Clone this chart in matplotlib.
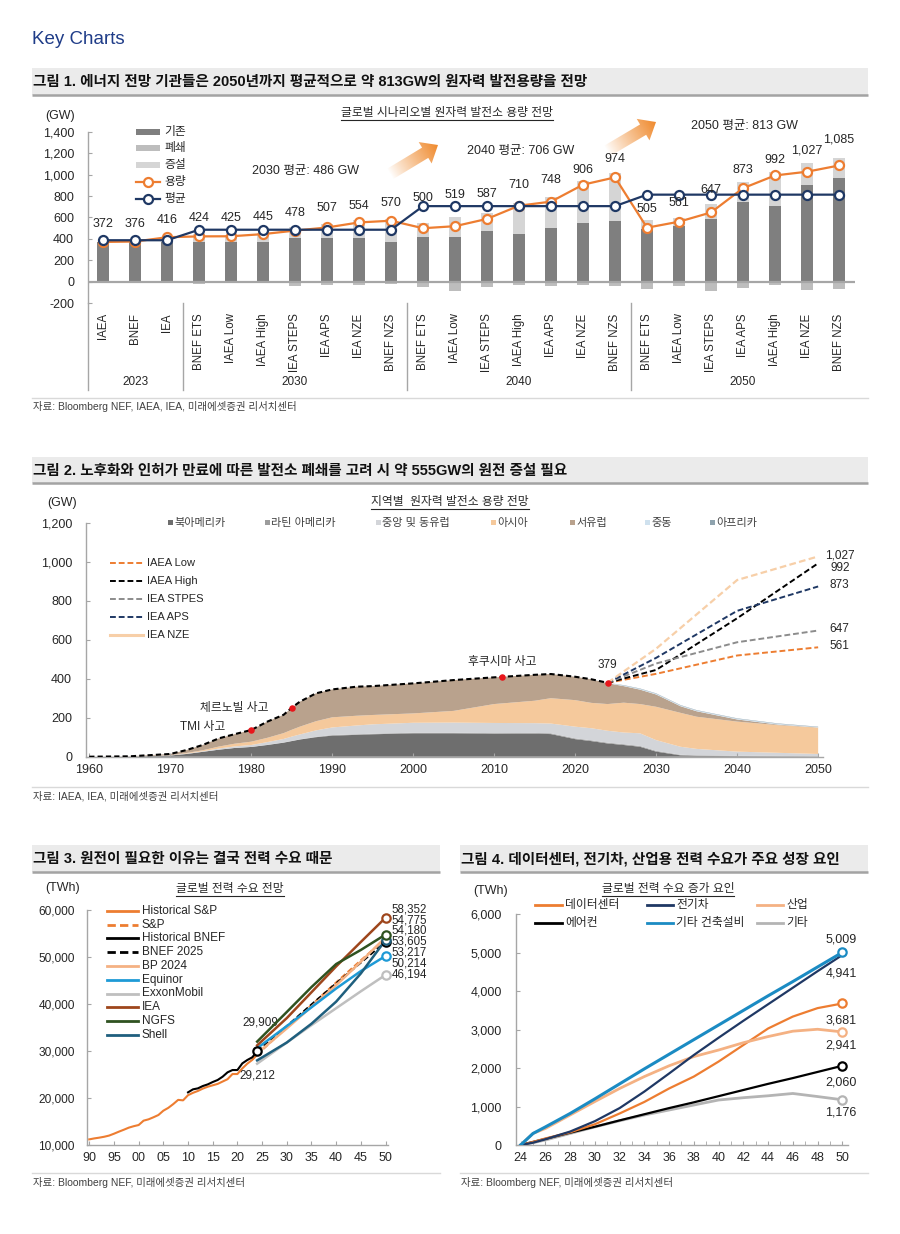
import numpy as np
import matplotlib
matplotlib.use('Agg')
import matplotlib.pyplot as plt
import matplotlib.transforms as mtrans
from matplotlib.patches import Rectangle, Polygon
from matplotlib.ticker import FuncFormatter, MultipleLocator

plt.rcParams['font.family'] = ['Liberation Sans', 'Noto Sans CJK KR', 'DejaVu Sans']
plt.rcParams['axes.unicode_minus'] = False

# ======================= DATA =======================
# ---- Figure 1 : scenario capacity (GW)
c1_categories = ['IAEA', 'BNEF', 'IEA',
                 'BNEF ETS', 'IAEA Low', 'IAEA High', 'IEA STEPS', 'IEA APS', 'IEA NZE', 'BNEF NZS',
                 'BNEF ETS', 'IAEA Low', 'IEA STEPS', 'IAEA High', 'IEA APS', 'IEA NZE', 'BNEF NZS',
                 'BNEF ETS', 'IAEA Low', 'IEA STEPS', 'IEA APS', 'IAEA High', 'IEA NZE', 'BNEF NZS']
c1_groups = ['2023', '2030', '2040', '2050']
c1_group_sizes = [3, 7, 7, 7]
c1_existing = [372, 376, 372, 372, 372, 372, 412, 412, 412, 372, 418, 418, 471, 443, 505, 549, 564,
               496, 518, 583, 744, 704, 899, 967]
c1_added = [4, 4, 48, 72, 68, 83, 103, 125, 167, 218, 134, 187, 168, 292, 283, 391, 450,
            77, 80, 147, 191, 316, 205, 186]
c1_closure = [-4, -4, -4, -20, -15, -10, -37, -30, -25, -20, -52, -86, -52, -25, -40, -34, -40,
              -68, -37, -83, -62, -28, -77, -68]
c1_capacity = [372, 376, 416, 424, 425, 445, 478, 507, 554, 570, 500, 519, 587, 710, 748, 906, 974,
               505, 561, 647, 873, 992, 1027, 1085]
c1_average = [388, 388, 388, 486, 486, 486, 486, 486, 486, 486, 706, 706, 706, 706, 706, 706, 706,
              813, 813, 813, 813, 813, 813, 813]
c1_group_avg = [486, 706, 813]
c1_group_avg_years = ['2030', '2040', '2050']
# layout: height (GW) of each value label
c1_label_y = [538, 544, 581, 591, 591, 606, 643, 684, 705, 736, 786, 812, 817, 901, 954, 1047, 1141,
              675, 731, 861, 1047, 1134, 1221, 1327]

# ---- Figure 2 : regional capacity (GW)
c2_years = [1960, 1965, 1970, 1972, 1974, 1976, 1978, 1980, 1982, 1984, 1985, 1986, 1988, 1990, 1993,
            1995, 2000, 2005, 2010, 2015, 2017, 2020, 2022, 2024, 2026, 2028, 2030, 2033, 2035, 2040,
            2045, 2050]
c2_north_america = [0, 1, 6, 14, 25, 36, 45, 50, 60, 72, 80, 88, 100, 108, 112, 115, 120, 120, 118, 118,
                    116, 90, 80, 68, 60, 51, 26, 7, 4, 3, 2, 1]
c2_latin_america = [0, 0, 0, 0, 0, 0, 0, 0, 1, 1, 1, 1, 2, 3, 3, 3, 3, 3, 3, 4, 4, 4, 4, 4, 4, 4, 4, 3,
                    3, 2, 2, 2]
c2_ce_europe = [0, 0, 1, 2, 3, 6, 8, 10, 14, 18, 22, 25, 33, 39, 45, 48, 51, 52, 52, 50, 50, 60, 62, 61,
                60, 65, 55, 41, 33, 21, 16, 11]
c2_asia = [0, 0, 1, 3, 5, 10, 14, 17, 22, 30, 35, 40, 47, 52, 50, 48, 48, 60, 97, 115, 130, 136, 130,
           137, 153, 150, 171, 174, 165, 154, 142, 135]
c2_w_europe = [0, 1, 6, 15, 27, 42, 49, 60, 83, 94, 113, 128, 143, 143, 149, 148, 154, 158, 137, 133,
               124, 120, 121, 107, 85, 74, 63, 34, 28, 11, 3, 1]
c2_middle_east = [0, 0, 0, 0, 0, 0, 0, 0, 0, 0, 0, 0, 0, 0, 0, 0, 0, 0, 0, 0, 0, 0, 0, 2, 3, 4, 4, 4,
                  4, 4, 4, 2]
c2_africa = [0, 0, 0, 0, 0, 0, 0, 0, 0, 0, 0, 0, 0, 0, 0, 0, 0, 0, 0, 0, 0, 0, 0, 0, 2, 2, 2, 2, 2, 2,
             2, 2]
c2_regions = ['북아메리카', '라틴 아메리카', '중앙 및 동유럽', '아시아', '서유럽', '중동', '아프리카']
c2_hist_years = [1960, 1965, 1970, 1972, 1974, 1976, 1978, 1980, 1982, 1984, 1985, 1986, 1988, 1990,
                 1993, 1995, 2000, 2005, 2010, 2015, 2017, 2020, 2022, 2024]
c2_hist_total = [0, 2, 14, 34, 60, 94, 116, 137, 180, 215, 251, 282, 325, 345, 359, 362, 376, 393, 407,
                 420, 424, 410, 397, 379]
c2_scen_years = [2024, 2030, 2040, 2050]
c2_scen_names = ['IAEA Low', 'IAEA High', 'IEA STPES', 'IEA APS', 'IEA NZE']
c2_iaea_low = [379, 425, 519, 561]
c2_iaea_high = [379, 445, 710, 992]
c2_iea_steps = [379, 478, 587, 647]
c2_iea_aps = [379, 507, 748, 873]
c2_iea_nze = [379, 554, 906, 1027]
c2_event_years = [1980, 1985, 2011, 2024]
c2_event_values = [137, 251, 408, 379]

# ---- Figure 3 : global power demand (TWh)
c3_sp_hist_years = list(range(1990, 2025))
c3_sp_hist = [11200, 11400, 11560, 11750, 12000, 12400, 12840, 13250, 13690, 14000, 14250, 15180,
              15460, 15900, 16380, 17300, 17900, 18700, 19600, 19500, 20600, 21100, 21500, 22000,
              22400, 22700, 23000, 23500, 24000, 25100, 25100, 26300, 27300, 28100, 29212]
c3_bnef_hist_years = list(range(2010, 2025))
c3_bnef_hist = [21200, 21840, 22050, 22550, 22900, 23400, 23830, 24530, 25460, 25950, 25950, 27370,
                28080, 28650, 29909]
c3_fc_years = [2024, 2030, 2035, 2040, 2045, 2050]
c3_sp = [29212, 35000, 39800, 44600, 49300, 53900]
c3_bnef = [29909, 35300, 39900, 44400, 48800, 53217]
c3_bp = [29500, 34800, 39400, 44000, 49000, 54180]
c3_equinor = [30600, 35300, 39300, 43300, 47000, 50214]
c3_exxon = [27300, 31800, 35500, 39100, 42700, 46194]
c3_iea = [31200, 37000, 42500, 48000, 53200, 58352]
c3_ngfs = [32000, 38300, 43600, 48500, 51500, 54775]
c3_shell = [28000, 31800, 35800, 40500, 46500, 53605]
c3_end_labels = [58352, 54775, 54180, 53605, 53217, 50214, 46194]

# ---- Figure 4 : demand growth drivers (TWh)
c4_years = [2024, 2025, 2026, 2028, 2030, 2032, 2034, 2036, 2038, 2040, 2042, 2044, 2046, 2048, 2050]
c4_datacenter = [0, 80, 170, 330, 540, 820, 1120, 1470, 1780, 2170, 2600, 3030, 3340, 3560, 3681]
c4_ev = [0, 60, 150, 350, 620, 960, 1390, 1860, 2340, 2790, 3230, 3660, 4090, 4520, 4941]
c4_industry = [0, 300, 430, 780, 1130, 1470, 1780, 2060, 2300, 2470, 2660, 2820, 2960, 3010, 2941]
c4_aircon = [0, 80, 160, 320, 475, 640, 800, 960, 1110, 1270, 1430, 1590, 1740, 1900, 2060]
c4_other_bldg = [0, 300, 470, 820, 1200, 1590, 1980, 2360, 2740, 3120, 3500, 3880, 4250, 4630, 5009]
c4_other = [0, 60, 130, 300, 470, 630, 780, 910, 1040, 1170, 1230, 1280, 1340, 1260, 1176]

# ======================= FIGURE =======================
W, H = 900, 1234
fig = plt.figure(figsize=(W / 100, H / 100), dpi=100)
fig.patch.set_facecolor('white')

TXT = '#262626'
AXC = '#a6a6a6'
ORANGE = '#ed7d31'
NAVY = '#1f3864'
comma = FuncFormatter(lambda v, p: f'{int(round(v)):,}')


def rect(l, t, r, b):
    return [l / W, 1 - b / H, (r - l) / W, (b - t) / H]


def style_axes(ax, pad=10):
    for s in ['top', 'right']:
        ax.spines[s].set_visible(False)
    for s in ['left', 'bottom']:
        ax.spines[s].set_color(AXC)
        ax.spines[s].set_linewidth(1.0)
    ax.tick_params(axis='y', direction='in', length=3, color=AXC, labelsize=9, labelcolor=TXT, pad=pad)
    ax.tick_params(axis='x', direction='in', length=3, color=AXC, labelsize=9, labelcolor=TXT, pad=5)
    ax.patch.set_alpha(0)


# overlay in pixel coordinates (for titles, legends, decorations)
ov = fig.add_axes([0, 0, 1, 1], zorder=10)
ov.set_xlim(0, W)
ov.set_ylim(H, 0)
ov.axis('off')
ov.patch.set_alpha(0)

underline_texts = []


def title_bar(x0, x1, y0, y1, text):
    ov.add_patch(Rectangle((x0, y0), x1 - x0, y1 - y0, fc='#ebebeb', ec='none'))
    ov.plot([x0, x1], [y1, y1], color='#a3a3a3', lw=1.8, solid_capstyle='butt')
    ov.text(x0 + 1, (y0 + y1) / 2 + 0.5, text, fontsize=10.5, fontweight='bold', va='center',
            ha='left', color='#111111')


def source(x0, x1, y, text):
    ov.plot([x0, x1], [y - 9, y - 9], color='#d9d9d9', lw=1.0)
    ov.text(x0 + 1, y, text, fontsize=7.5, va='center', ha='left', color='#404040')


def utitle(x, y, text, fs=8.5):
    t = ov.text(x, y, text, ha='center', va='center', fontsize=fs, color=TXT)
    underline_texts.append(t)


ov.text(32, 40, 'Key Charts', fontsize=13.5, color='#1f3c88', va='center', ha='left')

# ---------------------------------------------------------------- Figure 1
title_bar(32, 868, 68, 95, '그림 1. 에너지 전망 기관들은 2050년까지 평균적으로 약 813GW의 원자력 발전용량을 전망')
ax1 = fig.add_axes(rect(88, 131.7, 855, 303.3))
style_axes(ax1)
x1 = np.arange(len(c1_categories))
bw = 0.37
ax1.bar(x1, c1_existing, width=bw, color='#7f7f7f', zorder=2)
ax1.bar(x1, c1_added, bottom=c1_existing, width=bw, color='#d5d5d5', zorder=2)
ax1.bar(x1, c1_closure, width=bw, color='#bdbdbd', zorder=2)
ax1.axhline(0, color='#a6a6a6', lw=1.6, zorder=3)
ax1.plot(x1, c1_capacity, color=ORANGE, lw=1.6, marker='o', ms=6.5, mfc='white', mec=ORANGE,
         mew=1.6, zorder=4)
ax1.plot(x1, c1_average, color=NAVY, lw=1.6, marker='o', ms=6.5, mfc='white', mec=NAVY, mew=1.6,
         zorder=5)
for xi, v, ly in zip(x1, c1_capacity, c1_label_y):
    ax1.text(xi, ly, f'{v:,}', ha='center', va='center', fontsize=9, color=TXT, zorder=6)
ax1.set_xlim(-0.47, 23.5)
ax1.set_ylim(-200, 1400)
ax1.set_yticks(range(-200, 1401, 200))
ax1.yaxis.set_major_formatter(comma)
ax1.set_xticks([])
ax1.spines['bottom'].set_visible(False)
bt = mtrans.blended_transform_factory(ax1.transData, ax1.transAxes)
for xi, c in zip(x1, c1_categories):
    ax1.text(xi, -0.058, c, transform=bt, rotation=90, ha='center', va='top', fontsize=8.3,
             color=TXT, clip_on=False)
start = 0
seps = [-0.47]
for g, n in zip(c1_groups, c1_group_sizes):
    ax1.text(start + (n - 1) / 2, -0.46, g, transform=bt, ha='center', va='center', fontsize=8.5,
             color=TXT, clip_on=False)
    start += n
    if start < len(c1_categories):
        seps.append(start - 0.5)
for s in seps:
    ax1.plot([s, s], [0, -0.505], transform=bt, color=AXC, lw=1.0, clip_on=False)
ov.text(45, 116, '(GW)', fontsize=9, color=TXT, va='center', ha='left')
utitle(447, 113, '글로벌 시나리오별 원자력 발전소 용량 전망')
# legend
leg1_y = [131.7, 148.3, 165, 181.7, 199.3]
for y, c, lab in zip(leg1_y[:3], ['#7f7f7f', '#bdbdbd', '#d5d5d5'], ['기존', '폐쇄', '증설']):
    ov.add_patch(Rectangle((136, y - 3.2), 24, 6.4, fc=c, ec='none'))
    ov.text(164, y, lab, fontsize=8.5, va='center', ha='left', color=TXT)
for y, c, lab in zip(leg1_y[3:], [ORANGE, NAVY], ['용량', '평균']):
    ov.plot([136, 160], [y, y], color=c, lw=1.6)
    ov.plot([148], [y], marker='o', ms=6.5, mfc='white', mec=c, mew=1.6)
    ov.text(164, y, lab, fontsize=8.5, va='center', ha='left', color=TXT)
for (px, py), yr, v in zip([(305, 171), (521, 151), (744, 126)], c1_group_avg_years, c1_group_avg):
    ov.text(px, py, f'{yr} 평균: {v} GW', fontsize=9, ha='center', va='center', color=TXT)


def grad_arrow(tail, tip, w=6.0, hw=12.5, hl=15.0, color=(0.94, 0.53, 0.16)):
    T = np.array(tail, float)
    P = np.array(tip, float)
    L = np.linalg.norm(P - T)
    u = (P - T) / L
    n = np.array([-u[1], u[0]])
    Hd = P - u * hl
    pts = [T + n * w, Hd + n * w, Hd + n * hw, P, Hd - n * hw, Hd - n * w, T - n * w]
    poly = Polygon(pts, closed=True, fc='none', ec='none', transform=ov.transData)
    ov.add_patch(poly)
    xs = [p[0] for p in pts]
    ys = [p[1] for p in pts]
    x0, x1_, y0, y1_ = min(xs) - 1, max(xs) + 1, min(ys) - 1, max(ys) + 1
    nc, nr = 120, 120
    gx = x0 + (np.arange(nc) + 0.5) * (x1_ - x0) / nc
    gy = y0 + (np.arange(nr) + 0.5) * (y1_ - y0) / nr
    GX, GY = np.meshgrid(gx, gy)
    t = ((GX - T[0]) * u[0] + (GY - T[1]) * u[1]) / L
    a = np.clip(t, 0, 1) ** 0.9
    img = np.zeros((nr, nc, 4))
    img[..., 0], img[..., 1], img[..., 2] = color
    img[..., 3] = a
    im = ov.imshow(img, extent=(x0, x1_, y1_, y0), origin='upper', aspect='auto',
                   interpolation='bilinear')
    im.set_clip_path(poly)


grad_arrow((390, 174), (438, 145))
grad_arrow((607, 151), (656, 122))
ov.set_xlim(0, W)
ov.set_ylim(H, 0)
source(32, 868, 407, '자료: Bloomberg NEF, IAEA, IEA, 미래에셋증권 리서치센터')

# ---------------------------------------------------------------- Figure 2
title_bar(32, 868, 457, 483, '그림 2. 노후화와 인허가 만료에 따른 발전소 폐쇄를 고려 시 약 555GW의 원전 증설 필요')
ax2 = fig.add_axes(rect(86, 522.7, 823, 756.7))
style_axes(ax2)
c2_colors = ['#6e6e6e', '#9c9c9c', '#d3d5d9', '#f5c99c', '#b9a28d', '#cfe1ee', '#8fa3ae']
ax2.stackplot(c2_years, c2_north_america, c2_latin_america, c2_ce_europe, c2_asia, c2_w_europe,
              c2_middle_east, c2_africa, colors=c2_colors, lw=0, zorder=1)
ax2.plot(c2_hist_years, c2_hist_total, color='black', lw=1.5, ls=(0, (2.5, 1.5)), zorder=4)
c2_scen_styles = [(ORANGE, 1.4, (0, (3, 1.5))), ('#000000', 1.4, (0, (3, 1.5))),
                  ('#8c8c8c', 1.4, (0, (3, 1.5))), (NAVY, 1.4, (0, (3, 1.5))),
                  ('#f7cfa8', 1.6, (0, (3, 1.5)))]
c2_scen = [c2_iaea_low, c2_iaea_high, c2_iea_steps, c2_iea_aps, c2_iea_nze]
for vals, (col, lw, ls) in zip(c2_scen, c2_scen_styles):
    ax2.plot(c2_scen_years, vals, color=col, lw=lw, ls=ls, zorder=3)
ax2.scatter(c2_event_years, c2_event_values, s=22, color='#e8161b', zorder=5, lw=0)
c2_end_offsets = [0, -6, 0, 0, 0]  # px, layout nudges
for vals, off in zip(c2_scen, c2_end_offsets):
    ax2.annotate(f'{vals[-1]:,}', (2050, vals[-1]), xytext=(15.6, off / 1.389 + 1),
                 textcoords='offset points', ha='center', va='center', fontsize=8.5, color=TXT,
                 annotation_clip=False)
ax2.annotate(f'{c2_event_values[3]}', (c2_event_years[3], c2_event_values[3]), xytext=(0, 12.5),
             textcoords='offset points', ha='center', va='center', fontsize=8.5, color=TXT)
ax2.annotate('후쿠시마 사고', (c2_event_years[2], c2_event_values[2]), xytext=(0, 11),
             textcoords='offset points', ha='center', va='center', fontsize=8.5, color=TXT)
ax2.annotate('체르노빌 사고', (c2_event_years[1], c2_event_values[1]), xytext=(-17, 0),
             textcoords='offset points', ha='right', va='center', fontsize=8.5, color=TXT)
ax2.annotate('TMI 사고', (c2_event_years[0], c2_event_values[0]), xytext=(-18.5, 2),
             textcoords='offset points', ha='right', va='center', fontsize=8.5, color=TXT)
ax2.set_xlim(1959.6, 2050.6)
ax2.set_ylim(0, 1200)
ax2.set_xticks(range(1960, 2051, 10))
ax2.set_yticks(range(0, 1201, 200))
ax2.yaxis.set_major_formatter(comma)
ov.text(47, 503, '(GW)', fontsize=9, color=TXT, va='center', ha='left')
utitle(450, 502, '지역별  원자력 발전소 용량 전망')
leg2_x = [170, 267, 378, 493, 572, 647, 712]
for px, c, lab in zip(leg2_x, c2_colors, c2_regions):
    ov.add_patch(Rectangle((px - 2.5, 520.2), 5, 5, fc=c, ec='none'))
    ov.text(px + 4, 522.7, lab, fontsize=8, va='center', ha='left', color='#404040')
leg2_y = [562.7, 580.7, 598.7, 616.7, 635]
for y, (col, lw, ls), lab in zip(leg2_y, c2_scen_styles, c2_scen_names):
    if lab == 'IEA NZE':
        ov.plot([110, 143], [y, y], color=col, lw=2.2)
    else:
        ov.plot([110, 143], [y, y], color=col, lw=lw, ls=ls)
    ov.text(147, y, lab, fontsize=8, va='center', ha='left', color=TXT)
source(32, 868, 796, '자료: IAEA, IEA, 미래에셋증권 리서치센터')

# ---------------------------------------------------------------- Figure 3
title_bar(32, 440, 845, 872, '그림 3. 원전이 필요한 이유는 결국 전력 수요 때문')
ax3 = fig.add_axes(rect(87.3, 910, 388, 1145))
style_axes(ax3, pad=9)
c3_series = [
    ('Historical S&P', c3_sp_hist_years, c3_sp_hist, ORANGE, '-', 1.5, False),
    ('S&P', c3_fc_years, c3_sp, ORANGE, (0, (3, 1.5)), 1.4, False),
    ('Historical BNEF', c3_bnef_hist_years, c3_bnef_hist, '#000000', '-', 1.5, False),
    ('BNEF 2025', c3_fc_years, c3_bnef, '#000000', (0, (3, 1.5)), 1.4, True),
    ('BP 2024', c3_fc_years, c3_bp, '#f4b183', '-', 1.8, False),
    ('Equinor', c3_fc_years, c3_equinor, '#1e9ad6', '-', 1.8, True),
    ('ExxonMobil', c3_fc_years, c3_exxon, '#bfbfbf', '-', 1.8, True),
    ('IEA', c3_fc_years, c3_iea, '#9e461c', '-', 1.8, True),
    ('NGFS', c3_fc_years, c3_ngfs, '#2f5220', '-', 1.8, True),
    ('Shell', c3_fc_years, c3_shell, '#1f5f7e', '-', 1.8, True),
]
draw_order = [6, 4, 1, 3, 0, 2, 5, 9, 7, 8]
for i in draw_order:
    lab, xs, ys, col, ls, lw, mk = c3_series[i]
    ax3.plot(xs, ys, color=col, ls=ls, lw=lw, zorder=3 + i * 0.1)
    if mk:
        ax3.plot([xs[-1]], [ys[-1]], marker='o', ms=6, mfc='white', mec=col, mew=1.6,
                 zorder=5, clip_on=False)
ax3.plot([c3_bnef_hist_years[-1]], [c3_bnef_hist[-1]], marker='o', ms=6, mfc='white', mec='black',
         mew=1.6, zorder=6)
ax3.annotate(f'{c3_bnef_hist[-1]:,}', (c3_bnef_hist_years[-1], c3_bnef_hist[-1]), xytext=(2, 21),
             textcoords='offset points', ha='center', va='center', fontsize=8.5, color=TXT)
ax3.annotate(f'{c3_sp_hist[-1]:,}', (c3_sp_hist_years[-1], c3_sp_hist[-1]), xytext=(0, -15),
             textcoords='offset points', ha='center', va='center', fontsize=8.5, color=TXT)
c3_label_top, c3_label_step = 60200, 2330  # layout for stacked end labels
for i, v in enumerate(c3_end_labels):
    ax3.text(2051.2, c3_label_top - i * c3_label_step, f'{v:,}', ha='left', va='center',
             fontsize=8.3, color=TXT, clip_on=False)
ax3.set_xlim(1989.6, 2050.5)
ax3.set_ylim(10000, 60000)
ax3.set_xticks(range(1990, 2051, 5))
ax3.set_xticklabels([f'{y % 100:02d}' for y in range(1990, 2051, 5)])
ax3.set_yticks(range(10000, 60001, 10000))
ax3.yaxis.set_major_formatter(comma)
ax3.tick_params(axis='y', labelsize=8.6)
ov.text(45, 888, '(TWh)', fontsize=9, color=TXT, va='center', ha='left')
utitle(230, 889, '글로벌 전력 수요 전망')
for i, (lab, xs, ys, col, ls, lw, mk) in enumerate(c3_series):
    y = 910.7 + i * 13.8
    ov.plot([107, 138], [y, y], color=col, ls=ls, lw=2.0)
    ov.text(142, y, lab, fontsize=8.5, va='center', ha='left', color=TXT)
source(32, 440, 1182, '자료: Bloomberg NEF, 미래에셋증권 리서치센터')

# ---------------------------------------------------------------- Figure 4
title_bar(460, 868, 845, 872, '그림 4. 데이터센터, 전기차, 산업용 전력 수요가 주요 성장 요인')
ax4 = fig.add_axes(rect(515.7, 914.3, 848, 1145))
style_axes(ax4)
c4_series = [
    ('데이터센터', c4_datacenter, ORANGE, 1.6, -12),
    ('전기차', c4_ev, NAVY, 1.6, None),
    ('산업', c4_industry, '#f4b183', 2.0, -10),
    ('에어컨', c4_aircon, '#000000', 1.6, -12),
    ('기타 건축설비', c4_other_bldg, '#1b8bc3', 2.2, 9),
    ('기타', c4_other, '#b4b4b4', 2.0, -9),
]
for lab, ys, col, lw, off in [c4_series[i] for i in [5, 3, 0, 2, 1, 4]]:
    ax4.plot(c4_years, ys, color=col, lw=lw, zorder=3)
    if off is not None:
        ax4.plot([c4_years[-1]], [ys[-1]], marker='o', ms=6, mfc='white', mec=col, mew=1.6,
                 zorder=5, clip_on=False)
        ax4.annotate(f'{ys[-1]:,}', (c4_years[-1], ys[-1]), xytext=(-1, off),
                     textcoords='offset points', ha='center', va='center', fontsize=9,
                     color=TXT, annotation_clip=False)
ax4.annotate(f'{c4_ev[-1]:,}', (c4_years[-1], c4_ev[-1]), xytext=(-1, -13),
             textcoords='offset points', ha='center', va='center', fontsize=9, color=TXT)
ax4.set_xlim(2023.6, 2050.46)
ax4.set_ylim(0, 6000)
ax4.set_xticks(range(2024, 2051, 2))
ax4.set_xticklabels([f'{y % 100:02d}' for y in range(2024, 2051, 2)])
ax4.xaxis.set_minor_locator(MultipleLocator(1))
ax4.tick_params(axis='x', which='minor', direction='in', length=3, color=AXC)
ax4.set_yticks(range(0, 6001, 1000))
ax4.yaxis.set_major_formatter(comma)
ov.text(473, 891, '(TWh)', fontsize=9, color=TXT, va='center', ha='left')
utitle(668, 889, '글로벌 전력 수요 증가 요인')
leg4_cols = [(535, 562, 565), (647, 673, 676), (757, 783, 786)]
leg4_rows = [905, 923]
for k, (lab, ys, col, lw, off) in enumerate(c4_series):
    r, c = divmod(k, 3)
    hx0, hx1, tx = leg4_cols[c]
    y = leg4_rows[r]
    ov.plot([hx0, hx1], [y, y], color=col, lw=2.0)
    ov.text(tx, y, lab, fontsize=8.5, va='center', ha='left', color=TXT)
source(460, 868, 1182, '자료: Bloomberg NEF, 미래에셋증권 리서치센터')

# underlines for chart sub-titles
fig.canvas.draw()
inv = ov.transData.inverted()
for t in underline_texts:
    bb = t.get_window_extent()
    (xa, ya), (xb, yb) = inv.transform([[bb.x0, bb.y0], [bb.x1, bb.y1]])
    ylow = max(ya, yb) + 1
    ov.plot([xa, xb], [ylow, ylow], color=TXT, lw=0.8)
ov.set_xlim(0, W)
ov.set_ylim(H, 0)

fig.savefig('out.png', dpi=100, facecolor='white')
